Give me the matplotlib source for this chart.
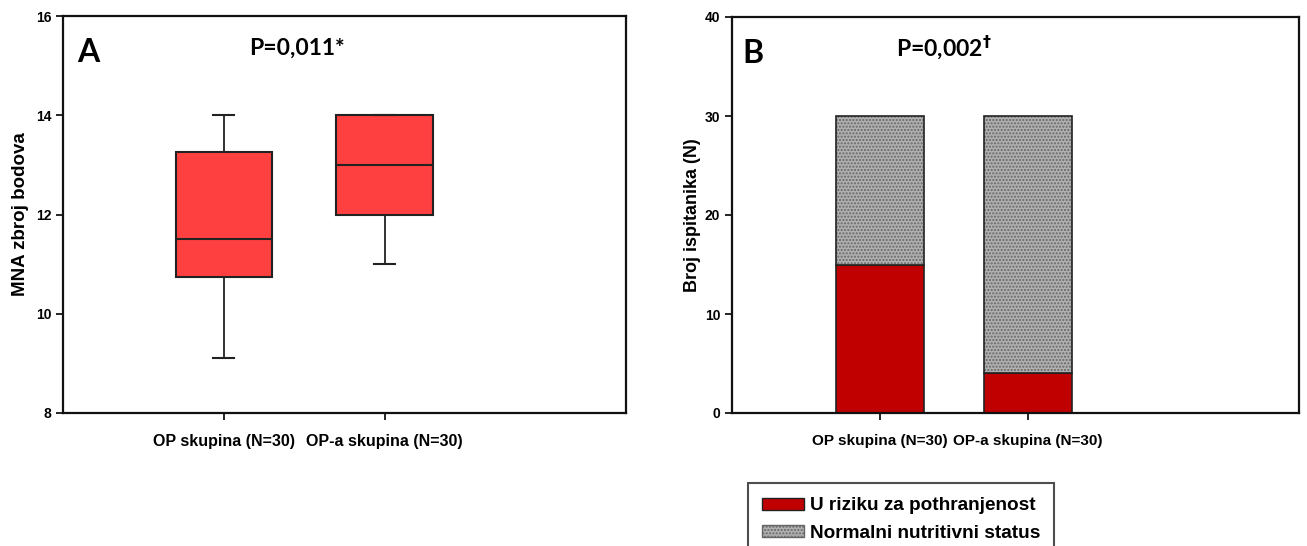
import matplotlib
matplotlib.use("Agg")
import matplotlib.pyplot as plt
from matplotlib.patches import Patch

plt.rcParams['font.family'] = ['Liberation Sans', 'DejaVu Sans']
plt.rcParams['font.weight'] = 'bold'
plt.rcParams['hatch.linewidth'] = 1.0

groups = ["OP skupina (N=30)", "OP-a skupina (N=30)"]

# panel A: MNA box plot stats
whislo = [9.1, 11.0]
q1 = [10.75, 12.0]
med = [11.5, 13.0]
q3 = [13.25, 14.0]
whishi = [14.0, 14.0]

# panel B: stacked counts
at_risk = [15, 4]
normal = [15, 26]

fig = plt.figure(figsize=(13.07, 5.46), dpi=100)
axA = fig.add_axes([63/1307, 1-413/546, (626-63)/1307, (413-16)/546])
axB = fig.add_axes([732/1307, 1-413/546, (1299-732)/1307, (413-17)/546])

stats = []
for i in range(2):
  stats.append(dict(whislo=whislo[i], q1=q1[i], med=med[i], q3=q3[i], whishi=whishi[i], fliers=[]))
axA.bxp(stats, positions=[1, 2], widths=0.6, capwidths=0.13, patch_artist=True, showfliers=False,
        boxprops=dict(facecolor='#ff4040', edgecolor='#222222', linewidth=1.5),
        medianprops=dict(color='#222222', linewidth=1.5),
        whiskerprops=dict(color='#222222', linewidth=1.3),
        capprops=dict(color='#222222', linewidth=1.5))
axA.set_xlim(0, 3.5)
axA.set_ylim(8, 16)
axA.set_yticks([8, 10, 12, 14, 16])
axA.set_ylabel("MNA zbroj bodova", fontsize=13.5, fontweight='bold', labelpad=5)
axA.text(0.025, 0.884, "A", transform=axA.transAxes, fontsize=23, fontweight='bold', family='Lato')
axA.text(0.416, 0.902, "P=0,011*", transform=axA.transAxes, fontsize=16.5, fontweight='bold',
         family='Lato', ha='center')
axA.set_xticks([1, 2])
axA.set_xticklabels(groups, fontsize=11.5, fontweight='bold')

x = [1, 2]
axB.bar(x, at_risk, width=0.6, color='#c00000', edgecolor='#222222', linewidth=1.2)
axB.bar(x, normal, width=0.6, bottom=at_risk, color='#b0b0b0', edgecolor='#666666', hatch='.....', linewidth=0)
axB.bar(x, normal, width=0.6, bottom=at_risk, fill=False, edgecolor='#222222', linewidth=1.2)
axB.set_xlim(0, 3.83)
axB.set_ylim(0, 40)
axB.set_yticks([0, 10, 20, 30, 40])
axB.set_ylabel("Broj ispitanika (N)", fontsize=13, fontweight='bold', labelpad=3)
axB.text(0.019, 0.884, "B", transform=axB.transAxes, fontsize=23, fontweight='bold', family='Lato')
axB.text(0.374, 0.902, r"P=0,002$^{\dagger}$", transform=axB.transAxes, fontsize=16.5, fontweight='bold',
         family='Lato', ha='center')
axB.set_xticks([1, 2])
axB.set_xticklabels(groups, fontsize=11, fontweight='bold')

for ax in (axA, axB):
  ax.tick_params(axis='y', labelsize=10, length=5, width=1.2, direction='out')
  ax.tick_params(axis='x', length=5, width=1.2, direction='out', pad=10)
  for s in ax.spines.values():
    s.set_linewidth(1.6)
    s.set_color('#111111')

handles = [Patch(facecolor='#c00000', edgecolor='#222222', linewidth=1.0),
           Patch(facecolor='#b0b0b0', edgecolor='#666666', hatch='.....', linewidth=1.0)]
leg = fig.legend(handles, ["U riziku za pothranjenost", "Normalni nutritivni status"],
                 loc='upper left', bbox_to_anchor=(748/1307, 1-483/546), borderaxespad=0,
                 frameon=True, fancybox=False, edgecolor='#222222', handlelength=2.2,
                 handleheight=0.6, handletextpad=0.3, borderpad=0.75, labelspacing=0.55,
                 prop=dict(weight='bold', size=13.7))
leg.get_frame().set_linewidth(1.5)

fig.savefig("out.png", dpi=100)
